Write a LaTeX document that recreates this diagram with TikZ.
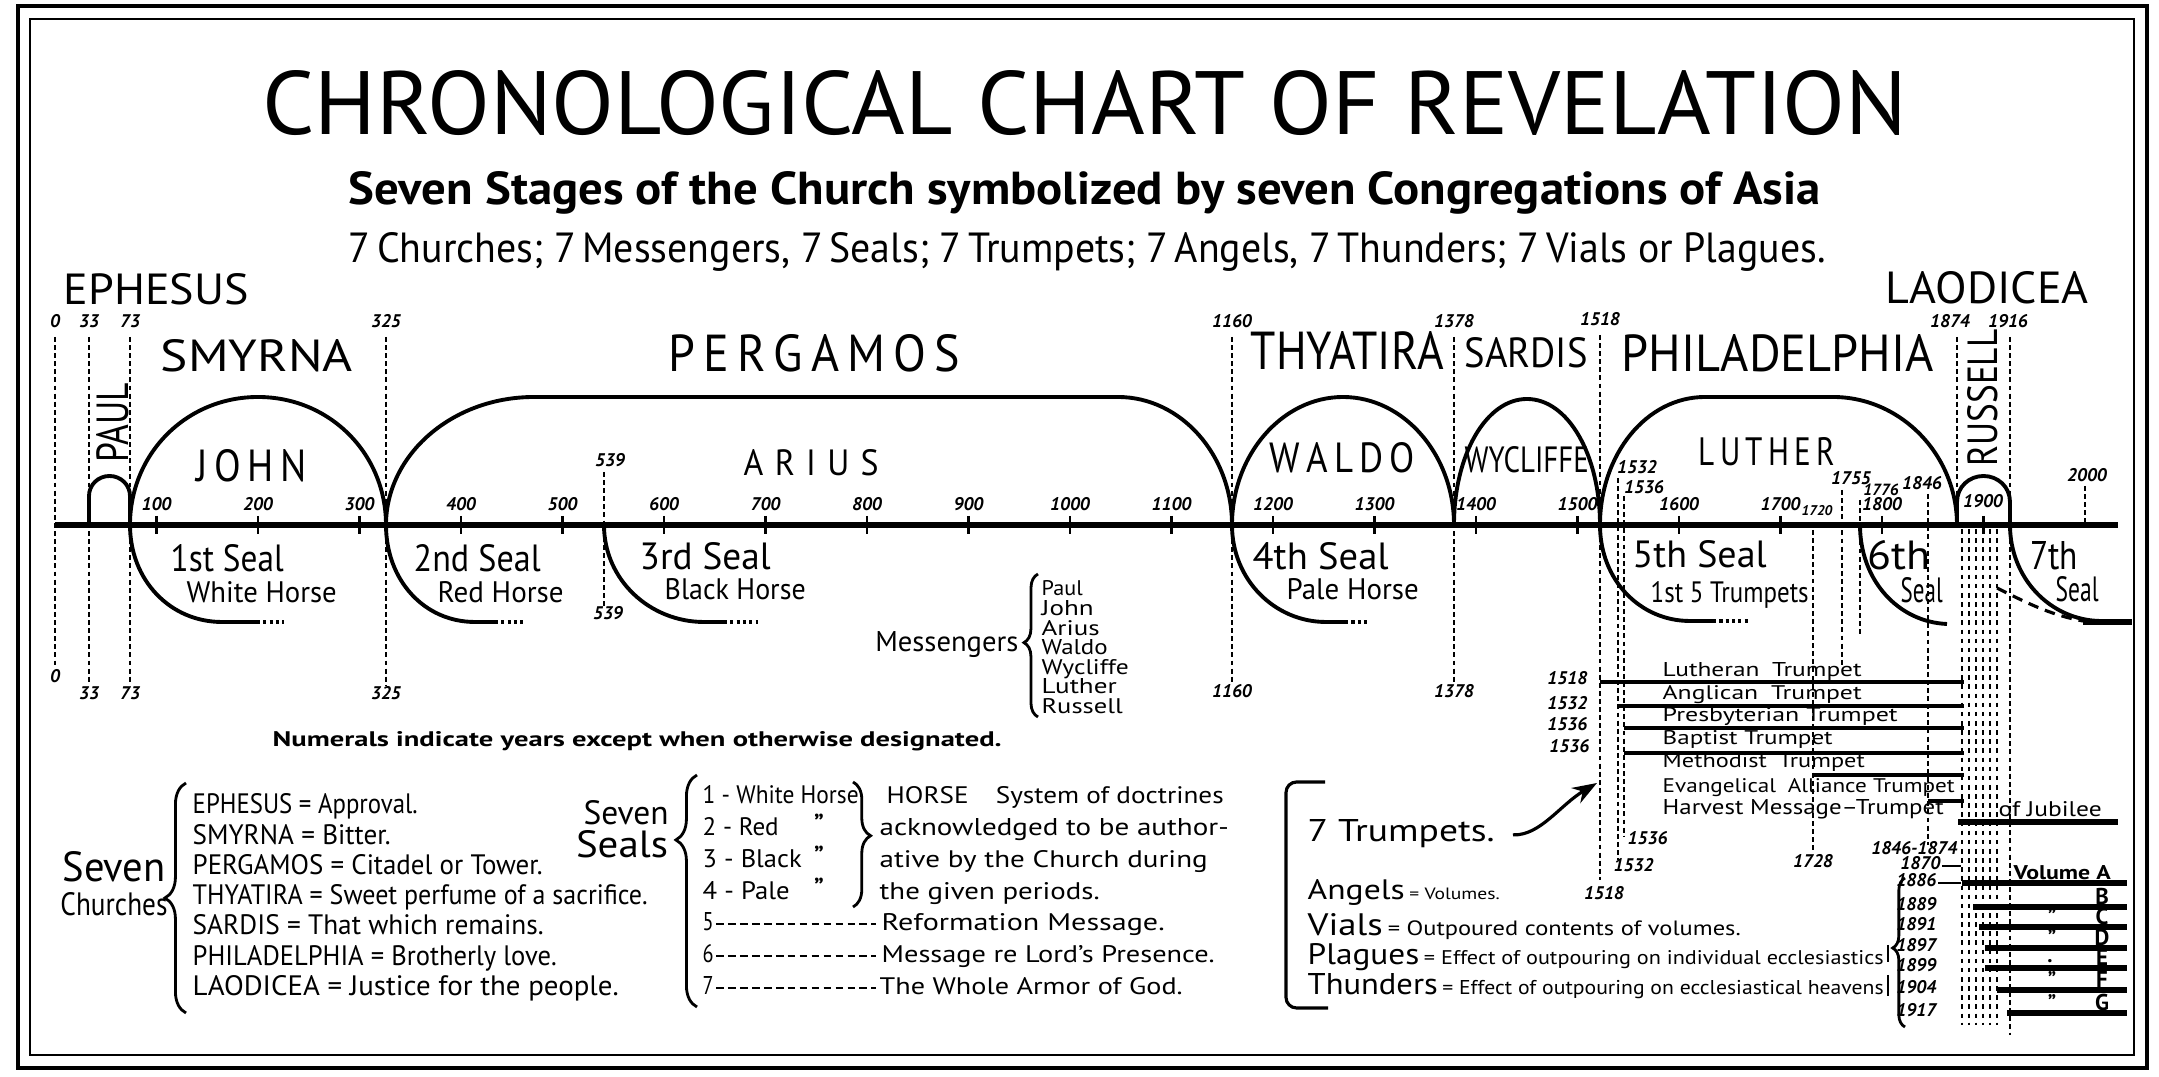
\documentclass[tikz,border=0pt]{standalone}
\usepackage{fontspec}
\setmainfont{PT Sans}
\usepackage{graphicx}
\usetikzlibrary{arrows.meta,decorations.pathreplacing}

% one unit of the picture = one pixel of the scan
\newlength{\pxu}
\setlength{\pxu}{0.01cm}
\newcommand{\fitw}[2]{\resizebox{#1\pxu}{!}{#2}}
\newcommand{\fitwh}[3]{\resizebox{#1\pxu}{#2\pxu}{#3}}

\begin{document}
\begin{tikzpicture}[x=0.01cm, y=-0.01cm,
    axisline/.style={line width=1.9pt},
    archline/.style={line width=1.1pt, line join=round},
    sealtail/.style={line width=1.1pt, dash pattern=on 0.9pt off 0.9pt},
    yearline/.style={line width=0.55pt, dash pattern=on 1.4pt off 0.9pt},
    bundle/.style={line width=0.5pt, dash pattern=on 1.3pt off 1.3pt},
    trumpline/.style={line width=0.9pt},
    volline/.style={line width=1.5pt},
    curly/.style={decorate, line width=0.8pt},
    yr/.style={font=\fontsize{5.2}{6}\selectfont\bfseries\itshape, inner sep=0},
    lbl/.style={inner sep=0, anchor=base west},
    lblc/.style={inner sep=0, anchor=base},
    lble/.style={inner sep=0, anchor=base east}
  ]
  \fill[white] (0,0) rectangle (2159,1077);
  \useasboundingbox (0,0) rectangle (2159,1077);

  % double frame
  \draw[line width=1.3pt] (18,6) rectangle (2147,1068);
  \draw[line width=0.8pt] (30,19) rectangle (2134,1055);

  % headings
  \node[lblc] (title) at (1085,135) {\fitwh{1645}{64}{CHRONOLOGICAL CHART OF REVELATION}};
  \node[lbl] (subtitle) at (348,205) {\fitwh{1472}{33}{\bfseries Seven Stages of the Church symbolized by seven Congregations of Asia}};
  \node[lbl] (sevens) at (348,263) {\fitwh{1477}{30}{7\,Churches; 7\,Messengers, 7\,Seals; 7\,Trumpets; 7\,Angels, 7\,Thunders; 7\,Vials or Plagues.}};

  % churches
  \node[lbl] (ephesus) at (63,305) {\fitwh{185}{31}{EPHESUS}};
  \node[lbl] (laodicea) at (1885,304) {\fitwh{203}{32}{LAODICEA}};
  \node[lbl] (smyrna) at (160,372) {\fitwh{192}{32}{SMYRNA}};
  \node[lbl] (pergamos) at (668,372) {\fitwh{291}{37}{P\,E\,R\,G\,A\,M\,O\,S}};
  \node[lbl] (thyatira) at (1250,370) {\fitwh{193}{38}{THYATIRA}};
  \node[lbl] (sardis) at (1464,368) {\fitwh{123}{30}{SARDIS}};
  \node[lbl] (philadelphia) at (1621,372) {\fitwh{312}{37}{PHILADELPHIA}};

  % messengers in the arches
  \node[rotate=90, inner sep=0] (paul) at (113,423) {\fitwh{80}{32}{PAUL}};
  \node[lbl] (john) at (196,482) {\fitwh{110}{32}{J\,O\,H\,N}};
  \node[lbl] (arius) at (743,476) {\fitwh{135}{26}{A\,\,R\,\,I\,\,U\,\,S}};
  \node[lbl] (waldo) at (1269,473) {\fitwh{145}{30}{W\,A\,L\,D\,O}};
  \node[lbl] (wycliffe) at (1464,473) {\fitwh{124}{26}{WYCLIFFE}};
  \node[lbl] (luther) at (1698,466) {\fitwh{136}{28}{L\,U\,T\,H\,E\,R}};
  \node[rotate=90, inner sep=0] (russell) at (1983,398) {\fitwh{137}{30}{RUSSELL}};

  % time axis
  \draw[axisline] (55,525) -- (2118,525);
  \foreach \yr in {100,200,...,1900}
    \draw[line width=0.7pt] ({55+1.015*\yr},516) -- ({55+1.015*\yr},534);
  \foreach \yr in {100,200,...,1800}
    \node[yr, anchor=base] (tick\yr) at ({55+1.015*\yr},511) {\yr};
  \node[yr, anchor=base] (tick1900) at (1983,508) {1900};
  \node[yr, anchor=base] (tick2000) at (2087,482) {2000};
  \draw[yearline] (2085,486) -- (2085,525);

  % period boundaries
  \foreach \x/\lab/\ye/\yb in {55/0/665/683, 89/33/682/700, 130/73/682/700, 386/325/685/700, 1232/1160/683/698, 1454/1378/683/698} {
    \draw[yearline] (\x,337) -- (\x,\ye);
    \node[yr, anchor=base] (top\lab) at (\x,328) {\lab};
    \node[yr, anchor=base] (bot\lab) at (\x,\yb) {\lab};
  }
  \draw[yearline] (604,472) -- (604,607);
  \node[yr, anchor=base] (top539) at (610,467) {539};
  \node[yr, anchor=base] (bot539) at (608,620) {539};
  \draw[yearline] (1600,335) -- (1600,880);
  \node[yr, anchor=base] (top1518) at (1600,326) {1518};
  \node[yr, anchor=base] (bot1518) at (1604,900) {1518};
  \draw[yearline] (1957,337) -- (1957,525);
  \node[yr, anchor=base] (top1874) at (1950,328) {1874};
  \draw[yearline] (2010,337) -- (2010,1035);
  \node[yr, anchor=base] (top1916) at (2008,328) {1916};

  % messenger arches
  \draw[archline] (89,525) -- (89,496) .. controls (89,485) and (98,476) .. (109.5,476)
    .. controls (121,476) and (130,485) .. (130,496) -- (130,525);
  \draw[archline] (130,525) .. controls (130,454) and (186,397) .. (258,397)
    .. controls (330,397) and (386,454) .. (386,525);
  \draw[archline] (386,525) .. controls (386,455) and (452,397) .. (534,397) -- (1118,397)
    .. controls (1181,397) and (1232,455) .. (1232,525);
  \draw[archline] (1232,525) .. controls (1232,455) and (1282,397) .. (1343,397)
    .. controls (1404,397) and (1454,455) .. (1454,525);
  \draw[archline] (1454,525) .. controls (1454,455) and (1486,399) .. (1527,399)
    .. controls (1568,399) and (1600,455) .. (1600,525);
  \draw[archline] (1600,525) .. controls (1600,455) and (1646,397) .. (1705,397) -- (1833,397)
    .. controls (1901,397) and (1957,455) .. (1957,525);
  \draw[archline] (1957,525) -- (1957,502) .. controls (1957,487) and (1969,476) .. (1983.5,476)
    .. controls (1998,476) and (2010,487) .. (2010,502) -- (2010,525);

  % seals
  \draw[archline] (130,525) .. controls (130,580) and (170,622) .. (222,622) -- (257,622);
  \draw[sealtail] (257,622) -- (284,622);
  \draw[archline] (386,525) .. controls (386,580) and (424,622) .. (475,622) -- (495,622);
  \draw[sealtail] (495,622) -- (523,622);
  \draw[archline] (604,525) .. controls (604,580) and (650,622) .. (704,622) -- (724,622);
  \draw[sealtail] (724,622) -- (758,622);
  \draw[archline] (1232,525) .. controls (1232,580) and (1275,622) .. (1326,622) -- (1345,622);
  \draw[sealtail] (1345,622) -- (1369,622);
  \draw[archline] (1600,525) .. controls (1600,580) and (1640,621) .. (1690,621) -- (1713,621);
  \draw[sealtail] (1713,621) -- (1748,621);
  \draw[archline] (1860,525) .. controls (1860,580) and (1898,622) .. (1947,624);
  \draw[archline] (2010,525) .. controls (2010,578) and (2050,620) .. (2100,621);
  \draw[line width=1.8pt] (2083,622) -- (2132,622);
  \draw[line width=0.9pt, dash pattern=on 3pt off 2pt] (1997,588) .. controls (2025,602) and (2050,615) .. (2083,621);

  \node[lbl] (seal1a) at (170,572) {\fitwh{113}{27}{1st Seal}};
  \node[lbl] (seal1b) at (186,603) {\fitwh{150}{21}{White Horse}};
  \node[lbl] (seal2a) at (413,572) {\fitwh{127}{27}{2nd Seal}};
  \node[lbl] (seal2b) at (437,603) {\fitwh{126}{21}{Red Horse}};
  \node[lbl] (seal3a) at (639,570) {\fitwh{131}{27}{3rd Seal}};
  \node[lbl] (seal3b) at (664,600) {\fitwh{141}{21}{Black Horse}};
  \node[lbl] (seal4a) at (1252,570) {\fitwh{136}{27}{4th Seal}};
  \node[lbl] (seal4b) at (1286,600) {\fitwh{132}{21}{Pale Horse}};
  \node[lbl] (seal5a) at (1632,568) {\fitwh{134}{27}{5th Seal}};
  \node[lbl] (seal5b) at (1650,603) {\fitwh{158}{21}{1st 5 Trumpets}};
  \node[lbl] (seal6a) at (1867,570) {\fitwh{63}{29}{6th}};
  \node[lbl] (seal6b) at (1900,603) {\fitwh{42}{25}{Seal}};
  \node[lbl] (seal7a) at (2030,570) {\fitwh{47}{28}{7th}};
  \node[lbl] (seal7b) at (2055,602) {\fitwh{43}{25}{Seal}};

  % reformation dates
  \draw[yearline] (1618,478) -- (1618,860);
  \draw[yearline] (1624,496) -- (1624,836);
  \node[yr, anchor=base] (top1532) at (1637,474) {1532};
  \node[yr, anchor=base] (top1536) at (1644,494) {1536};
  \node[yr, anchor=base west] (bot1536) at (1627,845) {1536};
  \node[yr, anchor=base west] (bot1532) at (1613,872) {1532};
  \draw[yearline] (1813,530) -- (1813,850);
  \node[yr, anchor=base, font=\fontsize{4}{4}\selectfont\bfseries\itshape] (top1720) at (1817,516) {1720};
  \node[yr, anchor=base] (bot1728) at (1813,868) {1728};
  \draw[yearline] (1842,490) -- (1842,667);
  \node[yr, anchor=base] (top1755) at (1851,485) {1755};
  \draw[yearline] (1860,500) -- (1860,637);
  \node[yr, anchor=base, font=\fontsize{4.6}{5}\selectfont\bfseries\itshape] (top1776) at (1881,496) {1776};
  \draw[yearline] (1928,494) -- (1928,845);
  \node[yr, anchor=base] (top1846) at (1922,490) {1846};
  \node[yr, anchor=base east] (bot1846) at (1958,855) {1846-1874};

  % trumpets
  \node[yr, anchor=base east] (t1518) at (1588,685) {1518};
  \node[yr, anchor=base east] (t1532) at (1588,710) {1532};
  \node[yr, anchor=base east] (t1536a) at (1588,731) {1536};
  \node[yr, anchor=base east] (t1536b) at (1590,753) {1536};
  \draw[trumpline] (1600,682) -- (1964,682);
  \draw[trumpline] (1618,706) -- (1964,706);
  \draw[trumpline] (1624,728) -- (1964,728);
  \draw[trumpline] (1624,753) -- (1964,753);
  \draw[trumpline] (1813,775) -- (1964,775);
  \draw[trumpline] (1928,801) -- (1964,801);
  \draw[volline] (1958,822) -- (2118,822);
  \node[lbl] (lutheran) at (1662,677) {\fitwh{199}{14}{Lutheran\enspace Trumpet}};
  \node[lbl] (anglican) at (1662,700) {\fitwh{199}{14}{Anglican\enspace Trumpet}};
  \node[lbl] (presbyterian) at (1662,722) {\fitwh{235}{14}{Presbyterian Trumpet}};
  \node[lbl] (baptist) at (1662,745) {\fitwh{170}{14}{Baptist Trumpet}};
  \node[lbl] (methodist) at (1662,768) {\fitwh{202}{14}{Methodist\enspace Trumpet}};
  \node[lbl] (evangelical) at (1662,793) {\fitwh{292}{14}{Evangelical\enspace Alliance Trumpet}};
  \node[lbl] (harvest) at (1662,815) {\fitwh{281}{15}{Harvest Message--Trumpet}};
  \node[lbl] (jubilee) at (1998,817) {\fitwh{103}{15}{of Jubilee}};

  % volumes
  \foreach \x in {1962,1969,1976,1983,1990,1997}
    \draw[bundle] (\x,529) -- (\x,1025);
  \node[yr, anchor=base east] (d1870) at (1941,870) {1870};
  \draw[line width=0.6pt] (1942,866) -- (1961,866);
  \draw[line width=0.6pt] (1938,883) -- (1961,883);
  \foreach \yrv/\y/\x in {1886/883/1962, 1889/907/1973, 1891/927/1979, 1897/948/1985, 1899/968/1985, 1904/990/1997, 1917/1013/2007} {
    \node[yr, anchor=base east] (d\yrv) at (1937,{\y+4}) {\yrv};
    \draw[volline] (\x,\y) -- (2127,\y);
  }
  \node[lbl] (volA) at (2013,880) {\fitwh{97}{14}{\bfseries Volume A}};
  \foreach \vl/\y in {B/907,C/927,D/948,E/968,F/990,G/1013}
    \node[lblc, font=\fontsize{6.5}{7}\selectfont\bfseries] (vol\vl) at (2102,{\y-2}) {\vl};
  \foreach \y in {927,948,990,1013}
    \node[lblc, font=\fontsize{6}{6}\selectfont\bfseries] (ditto\y) at (2052,{\y-3}) {''};
  \node[lblc, font=\fontsize{6}{6}\selectfont\bfseries] (ditto968) at (2050,{963}) {.};
  \draw[curly, decoration={brace, amplitude=3.5pt, aspect=0.53}] (1905,1027) -- (1905,878);
  \draw[line width=0.6pt] (1888,945) -- (1888,962);
  \draw[line width=0.6pt] (1888,975) -- (1888,996);

  % note
  \node[lbl] (numerals) at (272,747) {\fitwh{729}{15}{\bfseries Numerals indicate years except when otherwise designated.}};

  % messengers list
  \node[lble] (messengers) at (1019,652) {\fitwh{143}{20}{Messengers}};
  \draw[curly, decoration={brace, amplitude=4pt, aspect=0.52}] (1038,717) -- (1038,574);
  \foreach \n/\w [count=\i] in {Paul/41,John/52,Arius/58,Waldo/66,Wycliffe/87,Luther/75,Russell/81}
    \node[lbl] (msg\i) at (1041,{576.4+19.6*\i}) {\fitwh{\w}{15}{\n}};

  % seven churches
  \node[lblc] (sevenC) at (114,882) {\fitwh{103}{30}{Seven}};
  \node[lblc] (churches) at (114,916) {\fitwh{107}{23}{Churches}};
  \draw[curly, decoration={brace, amplitude=6pt, aspect=0.5}] (186,1013) -- (186,783);
  \foreach \w/\t [count=\i] in {225/{EPHESUS = Approval.}, 198/{SMYRNA = Bitter.}, 350/{PERGAMOS = Citadel or Tower.}, 455/{THYATIRA = Sweet perfume of a sacrifice.}, 351/{SARDIS = That which remains.}, 364/{PHILADELPHIA = Brotherly love.}, 426/{LAODICEA = Justice for the people.}}
    \node[lbl] (church\i) at (192,{783.5+30.3*\i}) {\fitwh{\w}{20}{\t}};

  % seven seals
  \node[lblc] (sevenS) at (626,825) {\fitwh{85}{24}{Seven}};
  \node[lblc] (seals) at (622,858) {\fitwh{92}{27}{Seals}};
  \draw[curly, decoration={brace, amplitude=6pt, aspect=0.72}] (697,1007) -- (697,775);
  \node[lbl] (row1) at (702,804) {\fitwh{156}{18}{1 - White Horse}};
  \node[lbl] (row2) at (702,836) {\fitwh{76}{18}{2 - Red}};
  \node[lbl] (row3) at (702,868) {\fitwh{99}{18}{3 - Black}};
  \node[lbl] (row4) at (702,900) {\fitwh{87}{18}{4 - Pale}};
  \foreach \y in {836,868,900}
    \node[lblc, font=\fontsize{7}{7}\selectfont\bfseries] (sditto\y) at (819,{\y-4}) {''};
  \foreach \n/\y in {5/931,6/963,7/995} {
    \node[lbl] (row\n) at (702,\y) {\fitwh{11}{18}{\n}};
    \draw[line width=0.7pt, dash pattern=on 2.2pt off 1.2pt] (716,{\y-7}) -- (876,{\y-7});
  }
  \draw[curly, decoration={brace, amplitude=5pt, aspect=0.43}] (853,782) -- (853,907);
  \node[lbl] (horse1) at (886,804) {\fitwh{337}{17}{HORSE\quad System of doctrines}};
  \node[lbl] (horse2) at (879,836) {\fitwh{349}{17}{acknowledged to be author-}};
  \node[lbl] (horse3) at (879,868) {\fitwh{328}{17}{ative by the Church during}};
  \node[lbl] (horse4) at (879,900) {\fitwh{220}{17}{the given periods.}};
  \node[lbl] (reform) at (881,931) {\fitwh{283}{17}{Reformation Message.}};
  \node[lbl] (presence) at (881,963) {\fitwh{333}{17}{Message re Lord's Presence.}};
  \node[lbl] (armor) at (879,995) {\fitwh{303}{17}{The Whole Armor of God.}};

  % trumpets legend
  \draw[line width=0.9pt, rounded corners=3pt] (1325,782) -- (1286,782) -- (1286,1008) -- (1328,1008);
  \node[lbl] (trumpets) at (1307,842) {\fitwh{187}{22}{7 Trumpets.}};
  \coordinate (line1518) at (1597,783);
  \draw[line width=0.9pt, -{Stealth[length=7pt,width=5pt]}, shorten <=5pt]
    (trumpets.east) .. controls (1540,836) and (1560,805) .. (line1518);
  \node[lbl] (angels) at (1307,900) {\fitwh{192}{20}{{\large Angels}\,{\scriptsize= Volumes.}}};
  \node[lbl] (vials) at (1307,936) {\fitwh{433}{22}{{\large Vials}\,{\footnotesize= Outpoured contents of volumes.}}};
  \node[lbl] (plagues) at (1307,965) {\fitwh{576}{21}{{\large Plagues}\,{\footnotesize= Effect of outpouring on individual ecclesiastics}}};
  \node[lbl] (thunders) at (1307,995) {\fitwh{576}{21}{{\large Thunders}\,{\footnotesize= Effect of outpouring on ecclesiastical heavens}}};
\end{tikzpicture}
\end{document}
